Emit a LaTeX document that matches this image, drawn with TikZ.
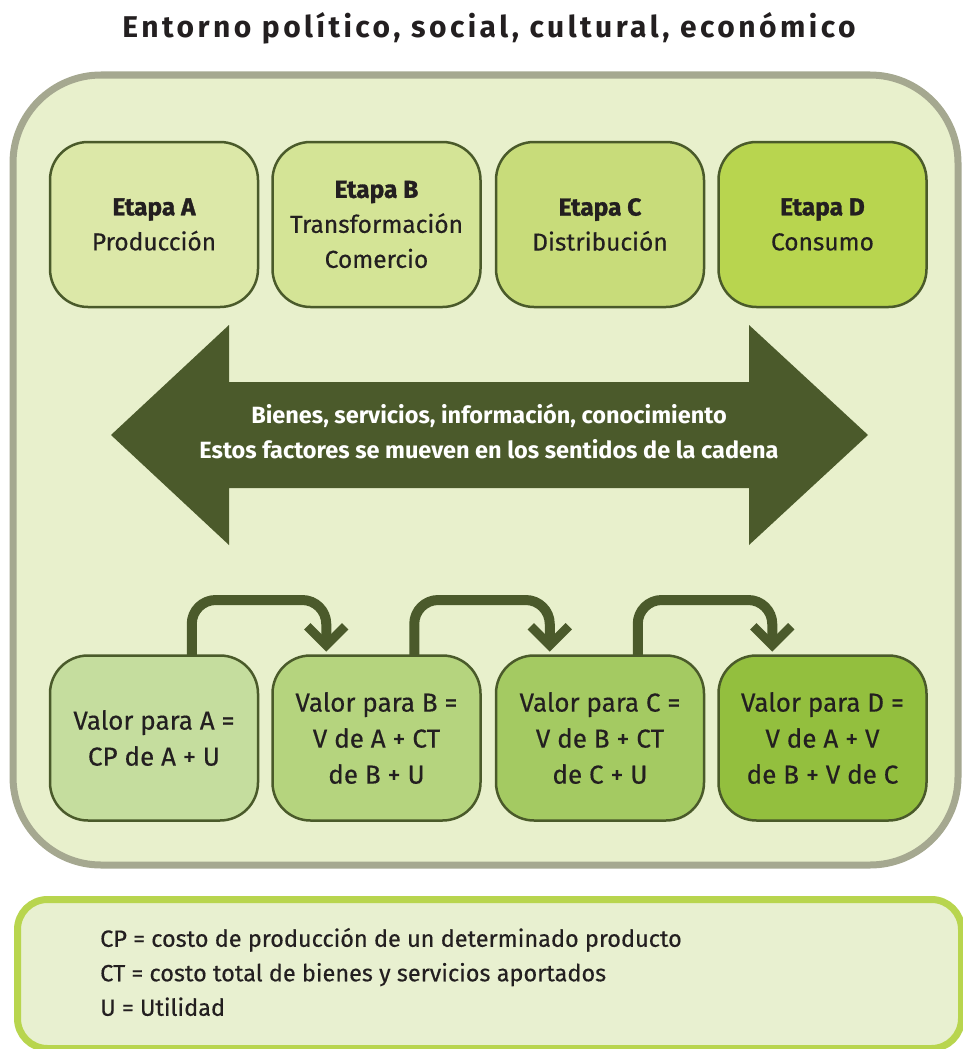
\documentclass[tikz,border=0pt]{standalone}
\usepackage{fontspec}
\setmainfont{Fira Sans}
\usetikzlibrary{calc}
\definecolor{outerfill}{HTML}{E8F0CC}
\definecolor{outerline}{HTML}{A5A890}
\definecolor{boxline}{HTML}{4A5A2A}
\definecolor{darkgreen}{HTML}{4B5A2B}
\definecolor{tA}{HTML}{DCE8A8}
\definecolor{tB}{HTML}{D4E496}
\definecolor{tC}{HTML}{C8DC7A}
\definecolor{tD}{HTML}{B8D54F}
\definecolor{bA}{HTML}{C5DD9E}
\definecolor{bB}{HTML}{B5D47E}
\definecolor{bC}{HTML}{A4CA62}
\definecolor{bD}{HTML}{93BF3E}
\definecolor{legline}{HTML}{B8D54E}
\definecolor{legfill}{HTML}{E8F0D0}
\definecolor{txt}{HTML}{231F20}
\newcommand{\heavy}[1]{{\bfseries\addfontfeatures{FakeBold=1.2}#1}}
\newcommand{\med}{\addfontfeatures{FakeBold=0.4}}
\begin{document}
\begin{tikzpicture}[x=1pt,y=-1pt,
  stagebox/.style={draw=boxline, line width=2.5pt, rounded corners=38pt,
    minimum width=208pt, minimum height=165pt, align=center, text=txt,
    inner sep=0pt, font=\fontsize{24.5}{35}\selectfont\med},
  valbox/.style={stagebox, font=\fontsize{26}{36}\selectfont\med},
  conn/.style={draw=darkgreen, line width=10pt},
  chev/.style={draw=darkgreen, line width=9pt, miter limit=4}
]
\useasboundingbox (0,0) rectangle (962,1049);
% title
\node (title) at (489,28) {\fontsize{30}{32}\selectfont\bfseries\addfontfeatures{LetterSpace=11.5}\color{txt}Entorno político, social, cultural, económico};
% environment box
\draw[draw=outerline, fill=outerfill, line width=7pt, rounded corners=88pt] (13,75) rectangle (958,865);
% stage boxes
\node[stagebox, fill=tA] (sA) at (154,224.5) {\heavy{Etapa A}\\Producción};
\node[stagebox, fill=tB] (sB) at (376.5,224.5) {\heavy{Etapa B}\\Transformación\\Comercio};
\node[stagebox, fill=tC] (sC) at (600,224.5) {\heavy{Etapa C}\\Distribución};
\node[stagebox, fill=tD] (sD) at (822.5,224.5) {\heavy{Etapa D}\\Consumo};
% double arrow
\fill[darkgreen] (111,435) -- (229,325) -- (229,382) -- (749,382) -- (749,325) -- (868,435)
  -- (749,545) -- (749,488) -- (229,488) -- (229,545) -- cycle;
\node[text=white, align=center, font=\fontsize{23.5}{35}\selectfont\bfseries] (flow) at (489,431)
  {Bienes, servicios, información, conocimiento\\Estos factores se mueven en los sentidos de la cadena};
% value boxes
\node[valbox, fill=bA] (vA) at (154,738) {Valor para A =\\CP de A + U};
\node[valbox, fill=bB] (vB) at (376.5,738) {Valor para B =\\V de A + CT\\de B + U};
\node[valbox, fill=bC] (vC) at (600,738) {Valor para C =\\V de B + CT\\de C + U};
\node[valbox, fill=bD] (vD) at (822.5,738) {Valor para D =\\V de A + V\\de B + V de C};
% connectors
\foreach \a/\b in {vA/vB, vB/vC, vC/vD}{
  \coordinate (s\a) at ($(\a.north west)+(143,1)$);
  \coordinate (t\b) at ($(\b.north west)+(55,-9)$);
  \draw[conn, rounded corners=24pt] (s\a) -- (s\a |- 0,600) -- (t\b |- 0,600) -- ($(t\b)+(0,-6)$);
  \draw[chev] ($(t\b)+(-19,-19)$) -- (t\b) -- ($(t\b)+(19,-19)$);
}
% legend
\node[draw=legline, fill=legfill, line width=7pt, rounded corners=30pt,
  minimum width=944pt, minimum height=149pt, anchor=north west, inner sep=0pt] (legend) at (14,896) {};
\node[anchor=west, align=left, text=txt, font=\fontsize{23.5}{34.5}\selectfont\med, inner sep=0pt] (legtext) at (100,972)
  {CP = costo de producción de un determinado producto\\CT = costo total de bienes y servicios aportados\\U = Utilidad};
\end{tikzpicture}
\end{document}
